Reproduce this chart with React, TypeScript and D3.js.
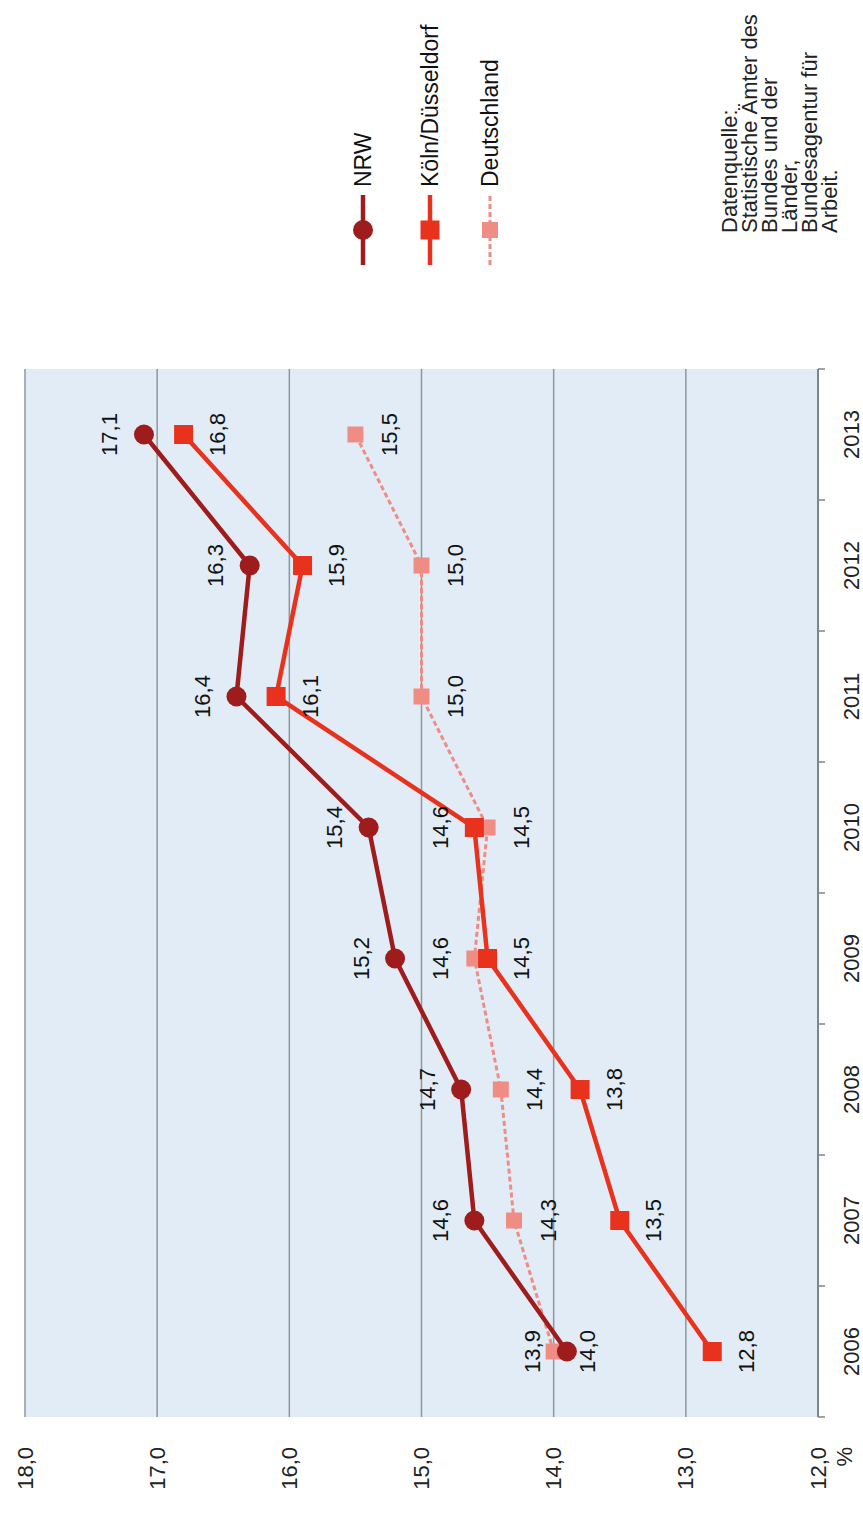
import * as d3 from 'd3';

// chart data
const years = ['2006', '2007', '2008', '2009', '2010', '2011', '2012', '2013'];
const nrw = [13.9, 14.6, 14.7, 15.2, 15.4, 16.4, 16.3, 17.1];
const koeln = [12.8, 13.5, 13.8, 14.5, 14.6, 16.1, 15.9, 16.8];
const deutschland = [14.0, 14.3, 14.4, 14.6, 14.5, 15.0, 15.0, 15.5];
const valueTicks = [12, 13, 14, 15, 16, 17, 18];
const sourceLines = ['Datenquelle:', 'Statistische Ämter des', 'Bundes und der', 'Länder,', 'Bundesagentur für', 'Arbeit.'];

const W = 863;
const H = 1514;
const FONT = 'Liberation Sans, Arial, sans-serif';
const FS = 22;

// the chart is drawn in an "original" frame and turned by -90deg
// page x = oy, page y = H - ox
const x = d3.scaleBand<string>().domain(years).range([97, 1145]);
const y = d3.scaleLinear().domain([12, 18]).range([818, 25]);

const fmt = (v: number) => d3.format('.1f')(v).replace('.', ',');

const COL_NRW = '#9e1c1c';
const COL_KOELN = '#e9321d';
const COL_DE = '#ef8c84';

export default function App() {
  const cx = (yr: string) => (x(yr) ?? 0) + x.bandwidth() / 2;
  const line = d3.line<number>()
    .x((_, i) => cx(years[i]))
    .y(d => y(d));

  // NRW labels sit above, the others below, unless Köln and DE nearly touch
  const sideOf = (series: string, i: number) => {
    if (series === 'nrw') return -1;
    const mine = series === 'koeln' ? koeln[i] : deutschland[i];
    const other = series === 'koeln' ? deutschland[i] : koeln[i];
    if (Math.abs(mine - other) < 0.15 && mine > other) return -1;
    return 1;
  };

  const [x0, x1] = x.range();

  return (
    <svg width={W} height={H} style={{ position: 'absolute', left: 0, top: 0, background: '#fff' }}
      fontFamily={FONT}>
      <g transform={`translate(0,${H}) rotate(-90)`}>
        {/* plot background */}
        <rect x={x0} y={y(18)} width={x1 - x0} height={y(12) - y(18)} fill="#e2ecf6" />
        {/* gridlines */}
        {valueTicks.map(t => (
          <line key={t} x1={x0} x2={x1} y1={y(t)} y2={y(t)}
            stroke={t === 12 ? '#7d868c' : '#8e979d'} strokeWidth={t === 12 ? 2 : 1.5} />
        ))}
        {/* value tick labels */}
        {valueTicks.map(t => (
          <text key={t} x={x0 - 30} y={y(t)} textAnchor="end" dominantBaseline="central"
            fontSize={FS} fill="#222">{fmt(t)}</text>
        ))}
        <text x={x0 - 30} y={y(12) + 26} textAnchor="end" dominantBaseline="central"
          fontSize={FS} fill="#222">%</text>
        {/* category ticks and labels */}
        {d3.range(years.length + 1).map(k => (
          <line key={k} x1={x0 + k * x.step()} x2={x0 + k * x.step()} y1={y(12)} y2={y(12) + 7}
            stroke="#7d868c" strokeWidth={1.5} />
        ))}
        {years.map(yr => (
          <text key={yr} x={cx(yr)} y={y(12) + 33} textAnchor="middle" dominantBaseline="central"
            fontSize={FS} fill="#222">{yr}</text>
        ))}

        {/* Deutschland */}
        <path d={line(deutschland) ?? ''} fill="none" stroke={COL_DE} strokeWidth={3}
          strokeDasharray="5,3" />
        {deutschland.map((v, i) => (
          <rect key={i} x={cx(years[i]) - 8} y={y(v) - 8} width={16} height={16} fill={COL_DE} />
        ))}
        {/* Köln/Düsseldorf */}
        <path d={line(koeln) ?? ''} fill="none" stroke={COL_KOELN} strokeWidth={4.5} />
        {koeln.map((v, i) => (
          <rect key={i} x={cx(years[i]) - 9.5} y={y(v) - 9.5} width={19} height={19} fill={COL_KOELN} />
        ))}
        {/* NRW */}
        <path d={line(nrw) ?? ''} fill="none" stroke={COL_NRW} strokeWidth={4.5} />
        {nrw.map((v, i) => (
          <circle key={i} cx={cx(years[i])} cy={y(v)} r={10} fill={COL_NRW} />
        ))}

        {/* data labels */}
        {[['nrw', nrw], ['koeln', koeln], ['de', deutschland]].map(([name, vals]) =>
          (vals as number[]).map((v, i) => (
            <text key={`${name}-${i}`} x={cx(years[i])} y={y(v) + sideOf(name as string, i) * 34}
              textAnchor="middle" dominantBaseline="central" fontSize={FS} fill="#111">
              {fmt(v)}
            </text>
          ))
        )}

        {/* legend */}
        {[
          { label: 'NRW', col: COL_NRW, shape: 'circle', oy: 363 },
          { label: 'Köln/Düsseldorf', col: COL_KOELN, shape: 'square', oy: 430 },
          { label: 'Deutschland', col: COL_DE, shape: 'small', oy: 490 },
        ].map(d => (
          <g key={d.label} transform={`translate(1284,${d.oy})`}>
            <line x1={-35} x2={35} y1={0} y2={0} stroke={d.col}
              strokeWidth={d.shape === 'small' ? 3 : 4.5}
              strokeDasharray={d.shape === 'small' ? '5,3' : undefined} />
            {d.shape === 'circle'
              ? <circle r={10} fill={d.col} />
              : <rect x={d.shape === 'small' ? -8 : -9.5} y={d.shape === 'small' ? -8 : -9.5}
                width={d.shape === 'small' ? 16 : 19} height={d.shape === 'small' ? 16 : 19} fill={d.col} />}
            <text x={43} y={0} dominantBaseline="central" fontSize={23} fill="#111">{d.label}</text>
          </g>
        ))}

        {/* source note */}
        {sourceLines.map((s, i) => (
          <text key={i} x={1281} y={729 + i * 20} dominantBaseline="central" fontSize={FS}
            fill="#222">{s}</text>
        ))}
      </g>
    </svg>
  );
}
